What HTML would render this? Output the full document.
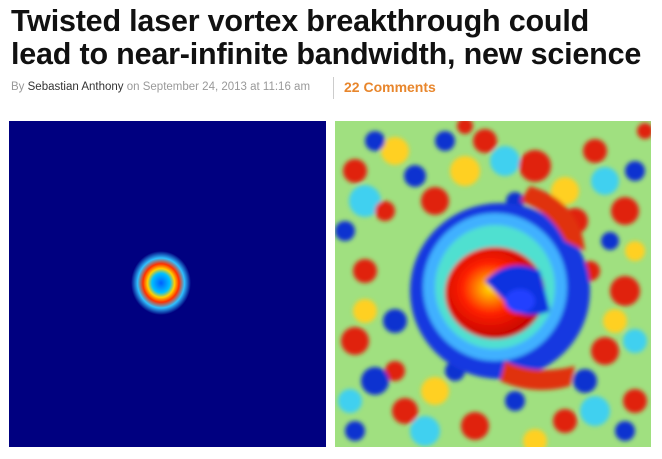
<!DOCTYPE html>
<html><head><meta charset="utf-8"><style>
body{margin:0;width:662px;height:459px;background:#fff;overflow:hidden;font-family:"Liberation Sans",sans-serif;position:relative}
h1{position:absolute;left:11px;top:5px;margin:0;font-size:30.5px;line-height:33px;font-weight:bold;color:#111;letter-spacing:-0.2px}
.by{position:absolute;left:11px;top:81px;font-size:11.5px;color:#999}
.by b{font-weight:normal;color:#333}
.sep{position:absolute;left:333px;top:77px;width:1px;height:22px;background:#ccc}
.cm{position:absolute;left:344px;top:79px;font-size:14px;font-weight:bold;color:#e8862c}
svg{position:absolute}
</style></head><body>
<h1>Twisted laser vortex breakthrough could<br>lead to near-infinite bandwidth, new science</h1>
<div class="by">By <b>Sebastian Anthony</b> on September 24, 2013 at 11:16 am</div>
<div class="sep"></div>
<div class="cm">22 Comments</div>

<svg style="left:9px;top:121px" width="317" height="326">
<defs><radialGradient id="r1" cx="50%" cy="50%" r="50%">
<stop offset="0" stop-color="#0060ff"/><stop offset="0.3" stop-color="#00c0ff"/><stop offset="0.45" stop-color="#ffd000"/><stop offset="0.6" stop-color="#ff3000"/><stop offset="0.78" stop-color="#30c0ff"/><stop offset="1" stop-color="#000080"/></radialGradient></defs>
<rect width="317" height="326" fill="#000080"/>
<ellipse cx="152" cy="162" rx="30" ry="32" fill="url(#r1)"/>
</svg>

<svg style="left:335px;top:121px" width="316" height="326">
<defs>
<filter id="bl"><feGaussianBlur stdDeviation="2"/></filter>
<radialGradient id="sw" cx="45%" cy="45%" r="55%"><stop offset="0" stop-color="#ffe000"/><stop offset="0.5" stop-color="#ff2000"/><stop offset="1" stop-color="#c00000"/></radialGradient>
</defs>
<rect width="316" height="326" fill="#a0e080"/>
<g filter="url(#bl)">
<g fill="#40d0f0">
<circle cx="30" cy="80" r="16"/><circle cx="170" cy="40" r="15"/><circle cx="270" cy="60" r="14"/><circle cx="90" cy="310" r="15"/><circle cx="260" cy="290" r="15"/><circle cx="300" cy="220" r="12"/><circle cx="15" cy="280" r="12"/>
</g>
<g fill="#e02010">
<circle cx="20" cy="50" r="12"/><circle cx="100" cy="80" r="14"/><circle cx="150" cy="20" r="12"/><circle cx="200" cy="45" r="16"/><circle cx="260" cy="30" r="12"/><circle cx="290" cy="90" r="14"/><circle cx="240" cy="100" r="13"/><circle cx="30" cy="150" r="12"/><circle cx="20" cy="220" r="14"/><circle cx="290" cy="170" r="15"/><circle cx="270" cy="230" r="14"/><circle cx="300" cy="280" r="12"/><circle cx="70" cy="290" r="13"/><circle cx="140" cy="305" r="14"/><circle cx="230" cy="300" r="12"/><circle cx="50" cy="90" r="10"/><circle cx="60" cy="250" r="10"/><circle cx="255" cy="150" r="10"/><circle cx="130" cy="5" r="8"/><circle cx="310" cy="10" r="8"/>
</g>
<g fill="#ffd020">
<circle cx="60" cy="30" r="14"/><circle cx="130" cy="50" r="15"/><circle cx="230" cy="70" r="14"/><circle cx="30" cy="190" r="12"/><circle cx="280" cy="200" r="12"/><circle cx="100" cy="270" r="14"/><circle cx="200" cy="320" r="12"/><circle cx="300" cy="130" r="10"/>
</g>
<g fill="#1030d0">
<circle cx="40" cy="20" r="10"/><circle cx="110" cy="20" r="10"/><circle cx="80" cy="55" r="11"/><circle cx="180" cy="80" r="9"/><circle cx="300" cy="50" r="10"/><circle cx="10" cy="110" r="10"/><circle cx="60" cy="200" r="12"/><circle cx="40" cy="260" r="14"/><circle cx="120" cy="250" r="10"/><circle cx="250" cy="260" r="12"/><circle cx="180" cy="280" r="10"/><circle cx="290" cy="310" r="10"/><circle cx="20" cy="310" r="10"/><circle cx="275" cy="120" r="9"/>
</g>
<ellipse cx="165" cy="170" rx="90" ry="88" fill="#1838e0"/>
<ellipse cx="160" cy="166" rx="72" ry="74" fill="#40b0ff"/>
<ellipse cx="160" cy="166" rx="60" ry="62" fill="#50e0d0"/>
<path d="M195 65 Q245 80 250 130 L230 120 Q215 90 185 80Z" fill="#e03010"/>
<path d="M170 240 Q200 255 240 245 L235 265 Q200 275 165 260Z" fill="#e03010"/>
<ellipse cx="160" cy="172" rx="50" ry="46" fill="url(#sw)"/>
<path d="M150 160 Q175 135 205 150 L215 190 Q190 200 175 185 Q165 175 150 160Z" fill="#0830e0"/>
<ellipse cx="185" cy="180" rx="15" ry="12" fill="#2040ff"/>
</g>
</svg>
</body></html>
